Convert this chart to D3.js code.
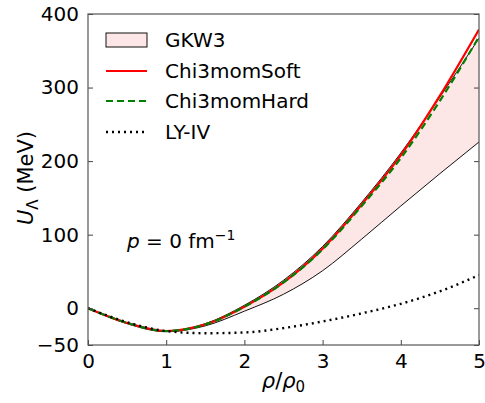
<!DOCTYPE html>
<html>
<head>
<meta charset="utf-8">
<script src="https://cdn.jsdelivr.net/npm/d3@7"></script>
<style>
  body { margin: 0; background: #fff; }
  text { font-family: "DejaVu Sans", sans-serif; fill: #000; }
</style>
</head>
<body>
<div id="wrapper"></div>
<script>
// density grid rho/rho0
const rho = [0, 0.5, 1, 1.5, 2, 2.5, 3, 3.5, 4, 4.5, 5];

// U_Lambda (MeV)
const gkw3Upper = [0, -20, -31, -21, 4, 38, 84, 144, 211, 287, 367];
const gkw3Lower = [0, -21, -32, -24, -4, 19, 51, 94, 139, 183, 226];
const chi3momSoft = [0, -20, -31, -22, 2, 35, 81, 141, 208, 289, 379];
const chi3momHard = [0, -20, -31, -22, 2, 35, 80, 139, 204, 282, 369];
const lyIV = [0, -19, -31, -34, -33, -27, -18, -7, 6, 23, 45];

const xTicks = [0, 1, 2, 3, 4, 5];
const yTicks = [-50, 0, 100, 200, 300, 400];

const legendItems = ["GKW3", "Chi3momSoft", "Chi3momHard", "LY-IV"];

function build() {
    const dimension = {
        width: 485,
        height: 403,
        margin: { top: 14, left: 88, bottom: 58, right: 6 }
    };
    dimension.boundedWidth = dimension.width - dimension.margin.left - dimension.margin.right;
    dimension.boundedHeight = dimension.height - dimension.margin.top - dimension.margin.bottom;

    const svg = d3.select("#wrapper").append("svg")
        .attr("width", dimension.width)
        .attr("height", dimension.height);

    const bounded = svg.append("g")
        .attr("transform", `translate(${dimension.margin.left},${dimension.margin.top})`);

    const xScaler = d3.scaleLinear().domain([0, 5]).range([0, dimension.boundedWidth]);
    const yScaler = d3.scaleLinear().domain([-50, 400]).range([dimension.boundedHeight, 0]);

    const curve = d3.curveMonotoneX;
    const lineOf = (vals) => d3.line()
        .x((d, i) => xScaler(rho[i]))
        .y(d => yScaler(d))
        .curve(curve)(vals);

    bounded.append("clipPath").attr("id", "clip")
        .append("rect").attr("width", dimension.boundedWidth).attr("height", dimension.boundedHeight);

    const plot = bounded.append("g").attr("clip-path", "url(#clip)");

    // GKW3 band
    const band = d3.area()
        .x((d, i) => xScaler(rho[i]))
        .y0((d, i) => yScaler(gkw3Lower[i]))
        .y1(d => yScaler(d))
        .curve(curve);
    plot.append("path")
        .attr("d", band(gkw3Upper))
        .attr("fill", "#fde6e6");
    plot.append("path").attr("d", lineOf(gkw3Upper))
        .attr("fill", "none").attr("stroke", "#111").attr("stroke-width", 1);
    plot.append("path").attr("d", lineOf(gkw3Lower))
        .attr("fill", "none").attr("stroke", "#111").attr("stroke-width", 1);

    plot.append("path").attr("d", lineOf(chi3momSoft))
        .attr("fill", "none").attr("stroke", "#ff0000").attr("stroke-width", 2.2);
    plot.append("path").attr("d", lineOf(chi3momHard))
        .attr("fill", "none").attr("stroke", "#008000").attr("stroke-width", 2.2)
        .attr("stroke-dasharray", "7,4");
    plot.append("path").attr("d", lineOf(lyIV))
        .attr("fill", "none").attr("stroke", "#000").attr("stroke-width", 2.4)
        .attr("stroke-dasharray", "2,4");

    // axes (ticks inward)
    const xAxis = bounded.append("g")
        .attr("transform", `translate(0,${dimension.boundedHeight})`)
        .call(d3.axisBottom(xScaler).tickValues(xTicks).tickSizeInner(-5).tickSizeOuter(0).tickPadding(9)
            .tickFormat(d3.format("d")));
    const yAxis = bounded.append("g")
        .call(d3.axisLeft(yScaler).tickValues(yTicks).tickSizeInner(-5).tickSizeOuter(0).tickPadding(9)
            .tickFormat(d => d < 0 ? "\u2212" + Math.abs(d) : d));
    const yAxisRight = bounded.append("g")
        .attr("transform", `translate(${dimension.boundedWidth},0)`)
        .call(d3.axisRight(yScaler).tickValues(yTicks).tickSizeInner(-5).tickSizeOuter(0).tickFormat(""));
    [xAxis, yAxis, yAxisRight].forEach(a => {
        a.select(".domain").remove();
        a.selectAll(".tick line").attr("stroke", "#444");
        a.selectAll("text").style("font-size", "20px").attr("fill", "#000");
    });

    // frame
    bounded.append("rect")
        .attr("width", dimension.boundedWidth).attr("height", dimension.boundedHeight)
        .attr("fill", "none").attr("stroke", "#555").attr("stroke-width", 1.2);

    // axis labels
    svg.append("text")
        .attr("x", dimension.margin.left + dimension.boundedWidth / 2)
        .attr("y", 388)
        .attr("text-anchor", "middle")
        .style("font-size", "21px")
        .html('<tspan font-style="italic">ρ</tspan>/<tspan font-style="italic">ρ</tspan><tspan font-size="15px" dy="4">0</tspan>');

    svg.append("text")
        .attr("transform", `translate(33,${dimension.margin.top + yScaler(177)}) rotate(-90)`)
        .attr("text-anchor", "middle")
        .style("font-size", "21px")
        .html('<tspan font-style="italic">U</tspan><tspan font-size="15px" dy="5">Λ</tspan><tspan dy="-5"> (MeV)</tspan>');

    // annotation
    svg.append("text")
        .attr("x", 127).attr("y", 248)
        .style("font-size", "20px")
        .html('<tspan font-style="italic">p</tspan> = 0 fm<tspan font-size="14px" dy="-8">−1</tspan>');

    // legend
    const legend = svg.append("g");
    const rowY = [40, 71, 101, 132];
    legendItems.forEach((name, i) => {
        const y = rowY[i];
        if (i === 0) {
            legend.append("rect").attr("x", 106).attr("y", y - 7).attr("width", 41).attr("height", 14)
                .attr("fill", "#fde6e6").attr("stroke", "#111").attr("stroke-width", 1);
        } else {
            const ln = legend.append("line").attr("x1", 106).attr("x2", 147).attr("y1", y).attr("y2", y);
            if (i === 1) ln.attr("stroke", "#ff0000").attr("stroke-width", 2.2);
            if (i === 2) ln.attr("stroke", "#008000").attr("stroke-width", 2.2).attr("stroke-dasharray", "7,4");
            if (i === 3) ln.attr("stroke", "#000").attr("stroke-width", 2.4).attr("stroke-dasharray", "2,4");
        }
        legend.append("text").attr("x", 165).attr("y", y + 7)
            .style("font-size", "20px").text(name);
    });
}

build();
</script>
</body>
</html>
